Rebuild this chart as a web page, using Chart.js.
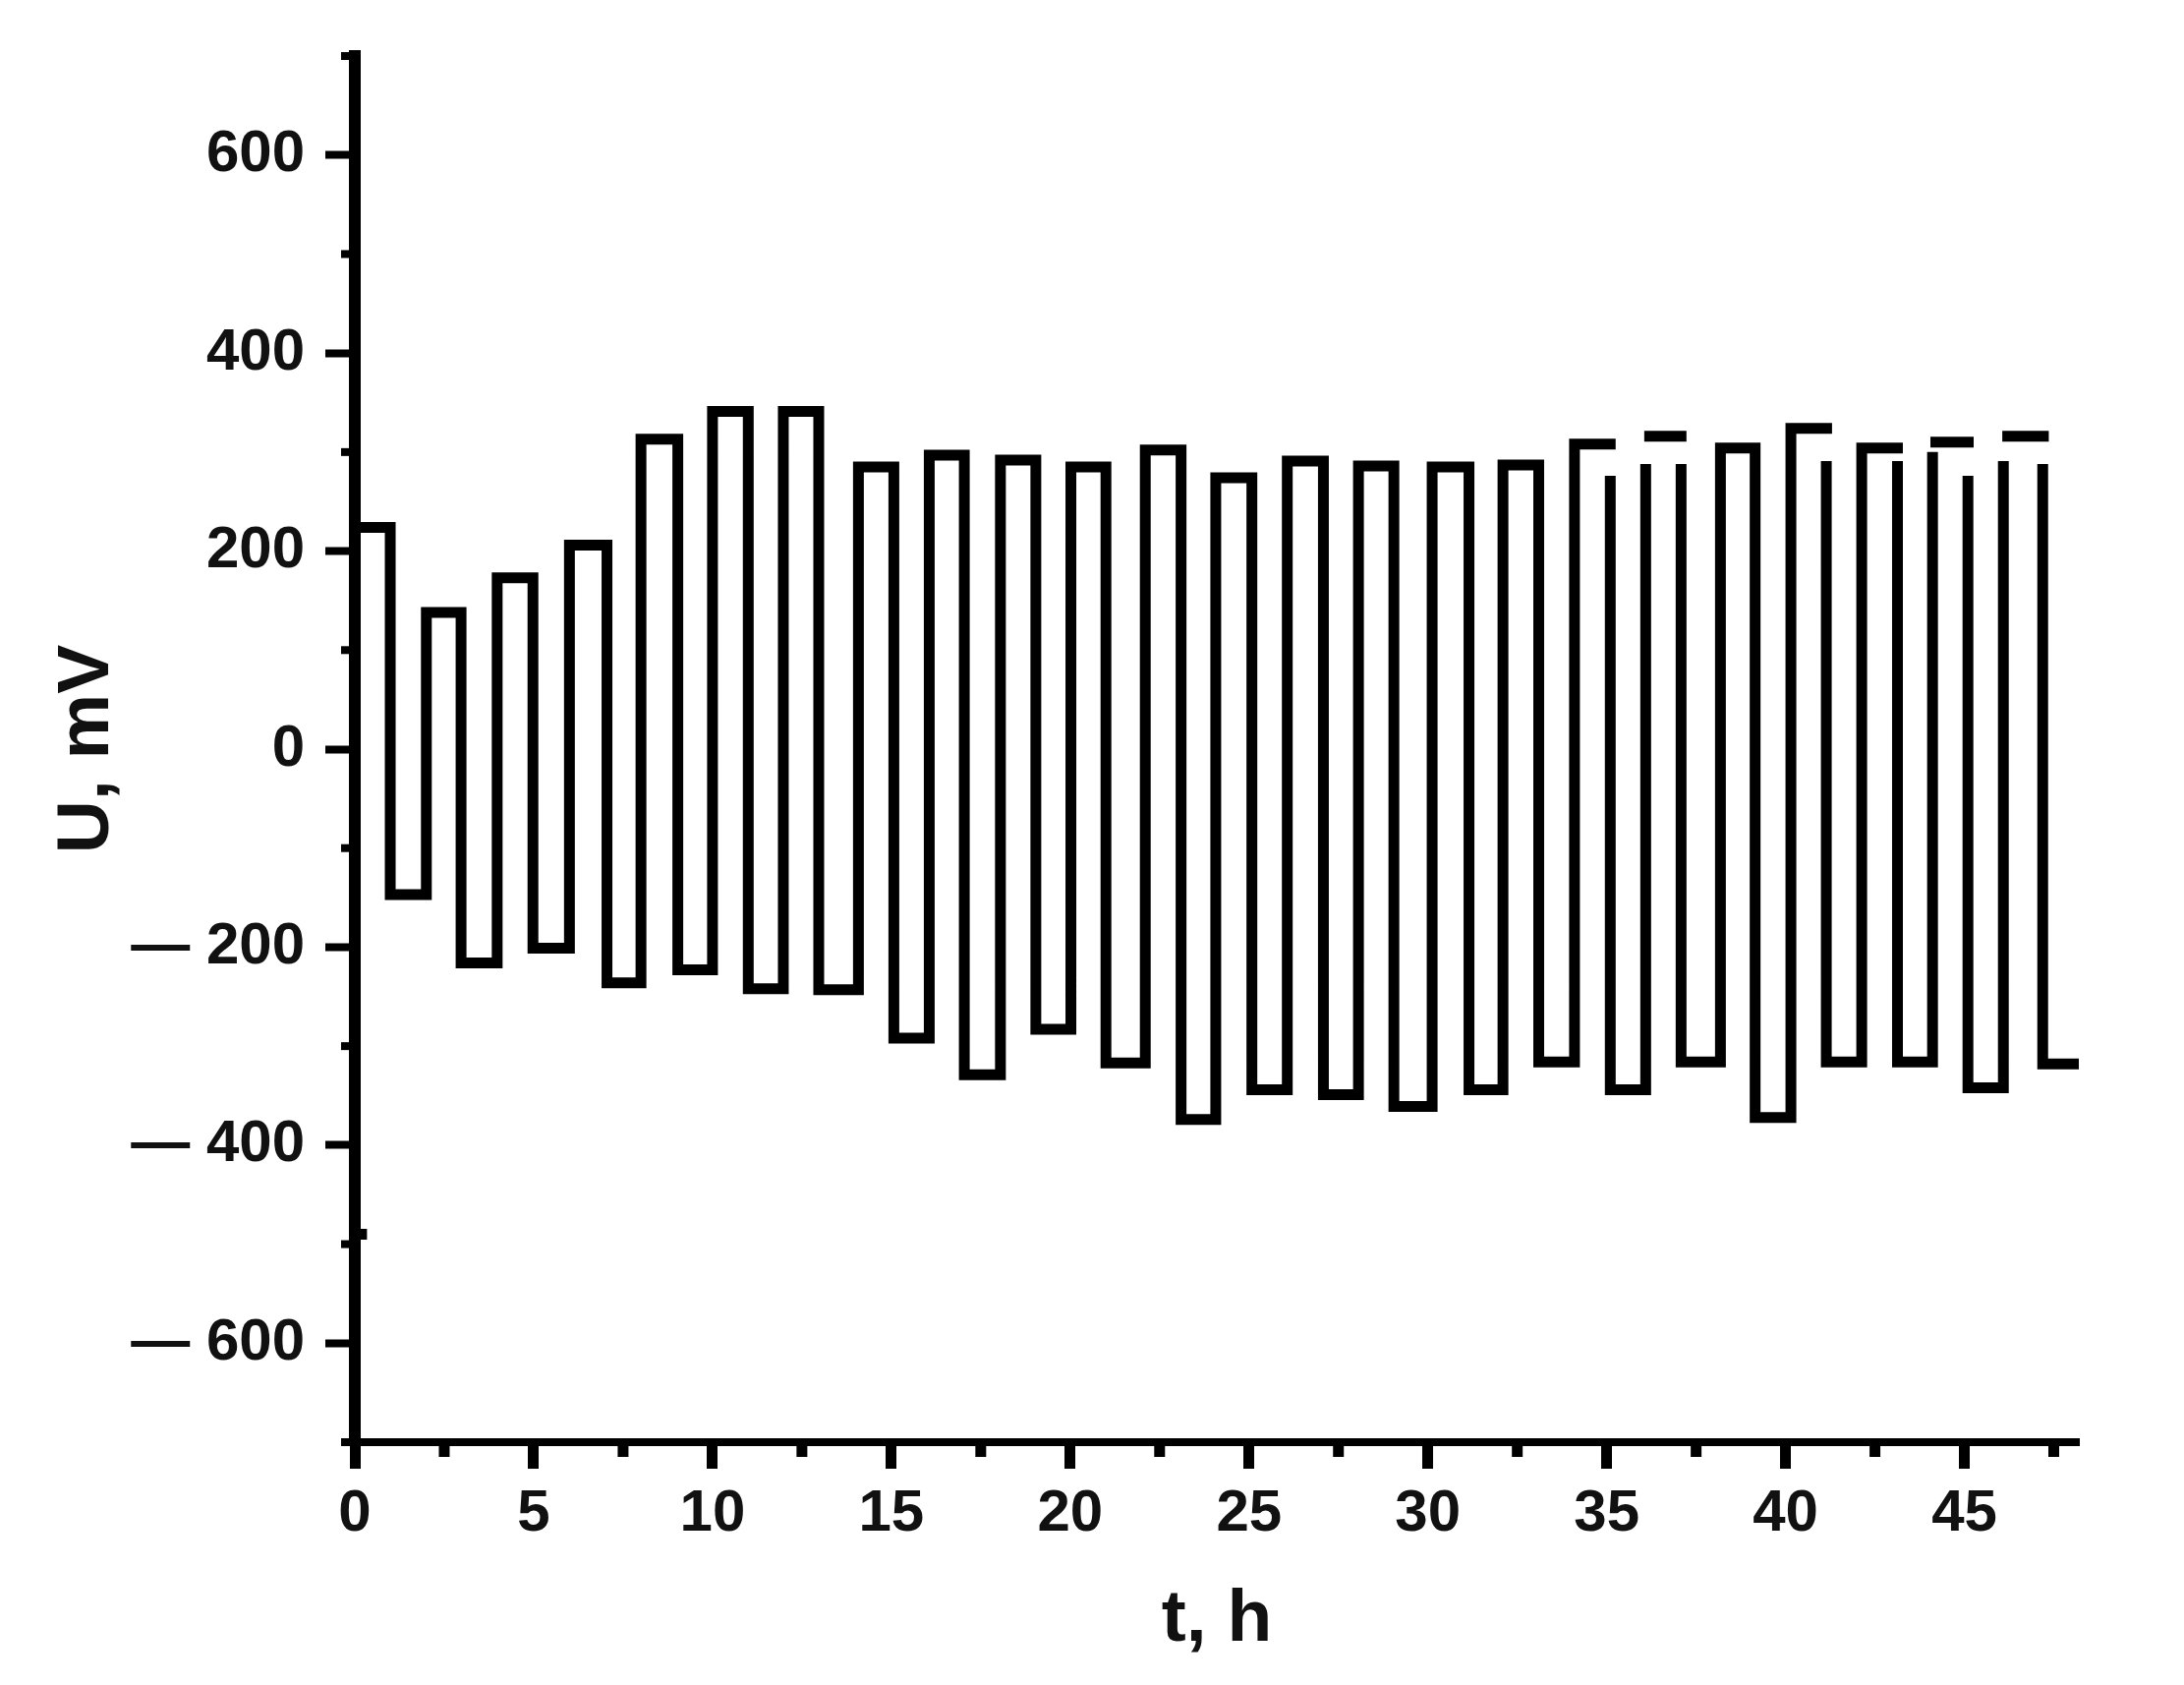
<!DOCTYPE html>
<html>
<head>
<meta charset="utf-8">
<title>U vs t</title>
<script src="https://cdn.jsdelivr.net/npm/chart.js@4.4.0/dist/chart.umd.min.js"></script>
<style>
    html, body { margin: 0; padding: 0; background: #fff; }
    #wrap { width: 2222px; height: 1714px; }
</style>
</head>
<body>
<div id="wrap"><canvas id="u-chart" width="2222" height="1714"></canvas></div>
<script>
// ── Data: square-wave voltage trace, corners ──
// null breaks the trace where the printed line has a gap
const timeH = [
    0.34, 0, 0, 0.99,
    0.99, 2.00, 2.00, 2.97,
    2.97, 3.98, 3.98, 4.98,
    4.98, 6.00, 6.00, 7.05,
    7.05, 8.00, 8.00, 9.03,
    9.03, 10.00, 10.00, 11.00,
    11.00, 11.98, 11.98, 12.97,
    12.97, 14.08, 14.08, 15.07,
    15.07, 16.06, 16.06, 17.04,
    17.04, 18.05, 18.05, 19.04,
    19.04, 20.02, 20.02, 21.00,
    21.00, 22.10, 22.10, 23.10,
    23.10, 24.07, 24.07, 25.08,
    25.08, 26.07, 26.07, 27.08,
    27.08, 28.06, 28.06, 29.05,
    29.05, 30.12, 30.12, 31.15,
    31.15, 32.10, 32.10, 33.10,
    33.10, 34.10, 34.10, 35.25, 35.25,
    35.10, 35.10, 36.09, 36.09, 36.09,
    36.05, 37.23, 37.23,
    37.08, 37.08, 38.18, 38.18, 39.15,
    39.15, 40.15, 40.15, 41.30, 41.30,
    41.14, 41.14, 42.13, 42.13, 43.28, 43.28,
    43.13, 43.13, 44.11, 44.11, 44.11,
    44.05, 45.26, 45.26,
    45.10, 45.10, 46.09, 46.09, 46.09,
    46.06, 47.36, 47.36,
    47.19, 47.19, 48.20
];
const voltageMV = [
    -490, -490, 224, 224,
    -147, -147, 138, 138,
    -216, -216, 173, 173,
    -201, -201, 206, 206,
    -236, -236, 313, 313,
    -223, -223, 341, 341,
    -242, -242, 341, 341,
    -243, -243, 285, 285,
    -292, -292, 297, 297,
    -329, -329, 292, 292,
    -283, -283, 285, 285,
    -317, -317, 302, 302,
    -374, -374, 274, 274,
    -344, -344, 291, 291,
    -349, -349, 286, 286,
    -361, -361, 285, 285,
    -344, -344, 287, 287,
    -316, -316, 308, 308, null,
    276, -344, -344, 288, null,
    316, 316, null,
    288, -316, -316, 304, 304,
    -372, -372, 324, 324, null,
    291, -316, -316, 304, 304, null,
    291, -316, -316, 300, null,
    310, 310, null,
    276, -342, -342, 291, null,
    316, 316, null,
    288, -318, -318
];

// ── Axes ──
const xRange = [0, 48.2];
const yRange = [-700, 700];
const xMajorTicks = [0, 5, 10, 15, 20, 25, 30, 35, 40, 45];
const xMinorTicks = [2.5, 7.5, 12.5, 17.5, 22.5, 27.5, 32.5, 37.5, 42.5, 47.5];
const yMajorTicks = [-600, -400, -200, 0, 200, 400, 600];
const yMinorTicks = [-700, -500, -300, -100, 100, 300, 500, 700];
const xTitle = 't, h';
const yTitle = 'U, mV';

const FONT = "'Liberation Sans', Arial, sans-serif";
const INK = '#111';

// short unlabelled ticks between the major ones
const minorTickPlugin = {
    id: 'minorTicks',
    afterDraw(chart) {
        const { ctx, scales: { x, y } } = chart;
        ctx.save();
        ctx.strokeStyle = '#000';
        ctx.lineWidth = 8;
        yMinorTicks.forEach(v => {
            const py = y.getPixelForValue(v);
            ctx.beginPath();
            ctx.moveTo(y.right - 14, py);
            ctx.lineTo(y.right, py);
            ctx.stroke();
        });
        ctx.lineWidth = 11;
        xMinorTicks.forEach(v => {
            const px = x.getPixelForValue(v);
            ctx.beginPath();
            ctx.moveTo(px, x.top);
            ctx.lineTo(px, x.top + 15);
            ctx.stroke();
        });
        ctx.restore();
    }
};

function formatY(v) {
    return v < 0 ? '\u2014 ' + Math.abs(v) : String(v);
}

const points = timeH.map((t, i) => ({ x: t, y: voltageMV[i] }));

new Chart(document.getElementById('u-chart'), {
    type: 'line',
    data: {
        datasets: [{
            label: 'U',
            data: points,
            borderColor: '#000',
            borderWidth: 11,
            borderJoinStyle: 'miter',
            borderCapStyle: 'butt',
            pointRadius: 0,
            tension: 0,
            spanGaps: false,
            fill: false
        }]
    },
    options: {
        responsive: false,
        devicePixelRatio: 1,
        animation: false,
        layout: { padding: { top: 53, right: 107, bottom: 0, left: 0 } },
        plugins: {
            legend: { display: false },
            tooltip: { enabled: false }
        },
        scales: {
            x: {
                type: 'linear',
                min: xRange[0],
                max: xRange[1],
                afterFit: s => { s.height = 247; },
                afterBuildTicks: s => { s.ticks = xMajorTicks.map(v => ({ value: v })); },
                border: { display: true, color: '#000', width: 8 },
                grid: { drawOnChartArea: false, drawTicks: true, tickLength: 27, tickWidth: 11, tickColor: '#000' },
                ticks: {
                    padding: 10,
                    color: INK,
                    maxRotation: 0,
                    autoSkip: false,
                    font: { family: FONT, size: 60, weight: 'bold' },
                    callback: v => String(v)
                },
                title: {
                    display: true,
                    text: xTitle,
                    color: INK,
                    font: { family: FONT, size: 75, weight: 'bold' },
                    padding: { top: 0, bottom: 21 }
                }
            },
            y: {
                type: 'linear',
                min: yRange[0],
                max: yRange[1],
                afterFit: s => { s.width = 361; },
                afterBuildTicks: s => { s.ticks = yMajorTicks.map(v => ({ value: v })); },
                border: { display: true, color: '#000', width: 12 },
                grid: { drawOnChartArea: false, drawTicks: true, tickLength: 30, tickWidth: 8, tickColor: '#000' },
                ticks: {
                    padding: 21,
                    color: INK,
                    autoSkip: false,
                    font: { family: FONT, size: 60, weight: 'bold' },
                    callback: v => formatY(v)
                },
                title: {
                    display: true,
                    text: yTitle,
                    color: INK,
                    font: { family: FONT, size: 75, weight: 'bold' },
                    padding: { top: 44, bottom: 0 }
                }
            }
        }
    },
    plugins: [minorTickPlugin]
});
</script>
</body>
</html>
